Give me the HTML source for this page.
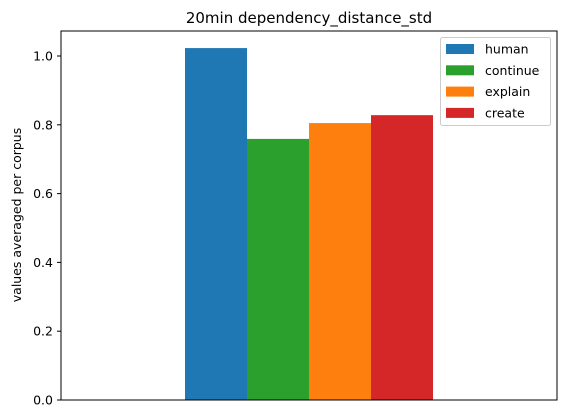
<!DOCTYPE html>
<html><head><meta charset="utf-8"><style>
body{margin:0;background:#fff}
svg{display:block;font-family:"DejaVu Sans","Liberation Sans",sans-serif}
</style></head><body>
<svg id="chart" width="567" height="418">
<text x="309" y="23" text-anchor="middle" font-size="15">20min dependency_distance_std</text>
<text transform="translate(21,215) rotate(-90)" text-anchor="middle" font-size="12.5">values averaged per corpus</text>
<g id="bars"></g>
<g id="yticks"></g>
<rect x="61" y="31" width="496" height="369" fill="none" stroke="#000" stroke-width="1"/>
<g id="legend"></g>
</svg>
<script>
const categories=["human","continue","explain","create"];
const values=[1.023,0.759,0.805,0.828];
const colors=["#1f77b4","#2ca02c","#ff7f0e","#d62728"];
const tickLabels=["0.0","0.2","0.4","0.6","0.8","1.0"];
const tickValues=[0,0.2,0.4,0.6,0.8,1.0];
const NS="http://www.w3.org/2000/svg";
const y=v=>400-v*344;
const x=i=>185+i*62;
const bars=document.getElementById("bars");
categories.forEach((c,i)=>{
  const r=document.createElementNS(NS,"rect");
  r.setAttribute("x",x(i));r.setAttribute("y",y(values[i]));
  r.setAttribute("width",62);r.setAttribute("height",400-y(values[i]));
  r.setAttribute("fill",colors[i]);
  
  
  bars.appendChild(r);
});
const yt=document.getElementById("yticks");
tickValues.forEach((v,i)=>{
  const l=document.createElementNS(NS,"line");
  l.setAttribute("x1",57);l.setAttribute("x2",61);l.setAttribute("y1",y(v));l.setAttribute("y2",y(v));l.setAttribute("stroke","#000");
  
  
  yt.appendChild(l);
  const t=document.createElementNS(NS,"text");
  t.setAttribute("x",53);t.setAttribute("y",y(v)+4.5);t.setAttribute("text-anchor","end");t.setAttribute("font-size","12.5");
  t.textContent=tickLabels[i];
  
  
  yt.appendChild(t);
});
const lg=document.getElementById("legend");
const box=document.createElementNS(NS,"rect");
box.setAttribute("x",440.5);box.setAttribute("y",37.5);box.setAttribute("width",110);box.setAttribute("height",88);box.setAttribute("rx",2);
box.setAttribute("fill","#fff");box.setAttribute("fill-opacity","0.8");box.setAttribute("stroke","#ccc");


lg.appendChild(box);
categories.forEach((c,i)=>{
  const r=document.createElementNS(NS,"rect");
  r.setAttribute("x",446);r.setAttribute("y",44+i*21.3);r.setAttribute("width",28);r.setAttribute("height",10);r.setAttribute("fill",colors[i]);
  
  
  lg.appendChild(r);
  const t=document.createElementNS(NS,"text");
  t.setAttribute("x",485);t.setAttribute("y",53.5+i*21.3);t.setAttribute("font-size","12.5");t.textContent=c;
  
  
  lg.appendChild(t);
});
</script>
</body></html>
